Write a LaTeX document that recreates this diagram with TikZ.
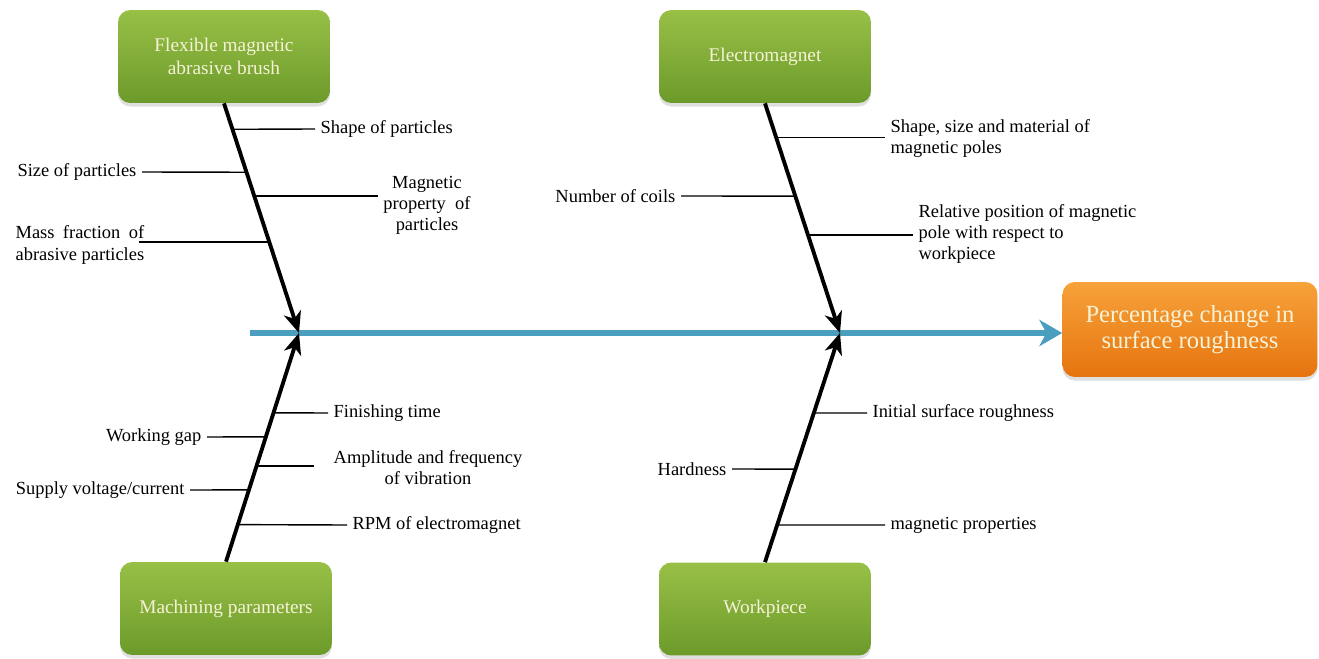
\documentclass[tikz,border=0pt]{standalone}
\usepackage{fontspec}
\setmainfont{Liberation Serif}
\usepackage{calc}
\usetikzlibrary{arrows.meta,calc,shadows}

\definecolor{leafgreen}{HTML}{98C047}
\definecolor{mossgreen}{HTML}{6C9A2A}
\definecolor{ambertop}{HTML}{F7A23A}
\definecolor{amberbot}{HTML}{E6740F}
\definecolor{spineblue}{HTML}{4A9EBE}
\definecolor{cream}{HTML}{F6F2D6}

\begin{document}
\begin{tikzpicture}[x=0.02cm,y=-0.02cm,
    cause/.style={rounded corners=7pt, top color=leafgreen, bottom color=mossgreen,
      minimum width=4.24cm, minimum height=1.86cm, align=center, text=cream,
      font=\fontsize{11}{13}\selectfont,
      drop shadow={opacity=0.25, shadow xshift=0pt, shadow yshift=-2pt}},
    effect/.style={cause, top color=ambertop, bottom color=amberbot,
      minimum width=5.1cm, minimum height=1.9cm, font=\fontsize{14}{15}\selectfont},
    lbl/.style={inner xsep=3pt, inner ysep=1pt, font=\fontsize{10.5}{12}\selectfont},
    bone/.style={line width=2.2pt, -{Stealth[length=12pt, width=10pt, inset=3.5pt]}},
    rib/.style={line width=0.8pt},
    spine/.style={line width=2.9pt, spineblue, -{Stealth[length=13pt, width=15pt, inset=4pt]}}]
  \useasboundingbox (0,0) rectangle (1319,659);

  % causes and effect
  \node [cause] (brush) at (224,56.5) {Flexible magnetic\\abrasive brush};
  \node [cause] (magnet) at (765,56.5) {Electromagnet};
  \node [cause] (machining) at (226,608.5) {Machining parameters};
  \node [cause] (work) at (765,609) {Workpiece};
  \node [effect] (effect) at (1190,329.5) {Percentage change in\\surface roughness};

  % spine
  \coordinate (tail) at (250,333);
  \coordinate (jA) at (299,333);
  \coordinate (jB) at (840,333);
  \draw [spine] (tail) -- (tail -| effect.west);

  % bones
  \draw [bone] (brush.south) -- (jA);
  \draw [bone] (machining.north) -- (jA);
  \draw [bone] (magnet.south) -- (jB);
  \draw [bone] (work.north) -- (jB);

  % points on the bones
  \coordinate (r1) at ($(brush.south)!0.113!(jA)$);
  \coordinate (r2) at ($(brush.south)!0.300!(jA)$);
  \coordinate (r3) at ($(brush.south)!0.404!(jA)$);
  \coordinate (r4) at ($(brush.south)!0.604!(jA)$);
  \coordinate (r5) at ($(magnet.south)!0.148!(jB)$);
  \coordinate (r6) at ($(magnet.south)!0.404!(jB)$);
  \coordinate (r7) at ($(magnet.south)!0.574!(jB)$);
  \coordinate (r8) at ($(machining.north)!0.651!(jA)$);
  \coordinate (r9) at ($(machining.north)!0.546!(jA)$);
  \coordinate (r10) at ($(machining.north)!0.419!(jA)$);
  \coordinate (r11) at ($(machining.north)!0.314!(jA)$);
  \coordinate (r12) at ($(machining.north)!0.162!(jA)$);
  \coordinate (r13) at ($(work.north)!0.651!(jB)$);
  \coordinate (r14) at ($(work.north)!0.406!(jB)$);
  \coordinate (r15) at ($(work.north)!0.162!(jB)$);

  % brush
  \node [lbl, anchor=west] (shape) at (315,129) {Shape of particles};
  \node [lbl, anchor=east] (size) at (142,172) {Size of particles};
  \node [lbl, align=center] (magprop) at (427,205) {Magnetic\\property\ \ of\\particles};
  \node [lbl, align=left, anchor=west] (mass) at (10,245)
    {\makebox[\widthof{abrasive particles}][s]{Mass fraction of}\\abrasive particles};
  \draw [rib] (r1) -- (shape.west);
  \draw [rib] (r2) -- (size.east);
  \draw [rib] (r3) -- (r3 -| magprop.west);
  \draw [rib] (r4) -- ([xshift=-6pt]r4 -| mass.east);

  % electromagnet
  \node [lbl, align=left, anchor=west] (poles) at (885,138.5) {Shape, size and material of\\magnetic poles};
  \node [lbl, anchor=east] (coils) at (681,196) {Number of coils};
  \node [lbl, align=left, anchor=west] (relpos) at (913,234)
    {Relative position of magnetic\\pole with respect to\\workpiece};
  \draw [rib] (r5) -- (r5 -| poles.west);
  \draw [rib] (r6) -- (coils.east);
  \draw [rib] (r7) -- (r7 -| relpos.west);

  % machining parameters
  \node [lbl, anchor=west] (time) at (328,413) {Finishing time};
  \node [lbl, anchor=east] (gap) at (207,437) {Working gap};
  \node [lbl, align=center] (vib) at (428,468) {Amplitude and frequency\\of vibration};
  \node [lbl, anchor=east] (supply) at (190,490) {Supply voltage/current};
  \node [lbl, anchor=west] (rpm) at (347,525) {RPM of electromagnet};
  \draw [rib] (r8) -- (time.west);
  \draw [rib] (r9) -- (gap.east);
  \draw [rib] (r10) -- ([xshift=-8pt]r10 -| vib.west);
  \draw [rib] (r11) -- (supply.east);
  \draw [rib] (r12) -- (rpm.west);

  % workpiece
  \node [lbl, anchor=west] (rough) at (867,413) {Initial surface roughness};
  \node [lbl, anchor=east] (hard) at (732,469) {Hardness};
  \node [lbl, anchor=west] (wpmag) at (885,525) {magnetic properties};
  \draw [rib] (r13) -- (rough.west);
  \draw [rib] (r14) -- (hard.east);
  \draw [rib] (r15) -- (wpmag.west);
\end{tikzpicture}
\end{document}
